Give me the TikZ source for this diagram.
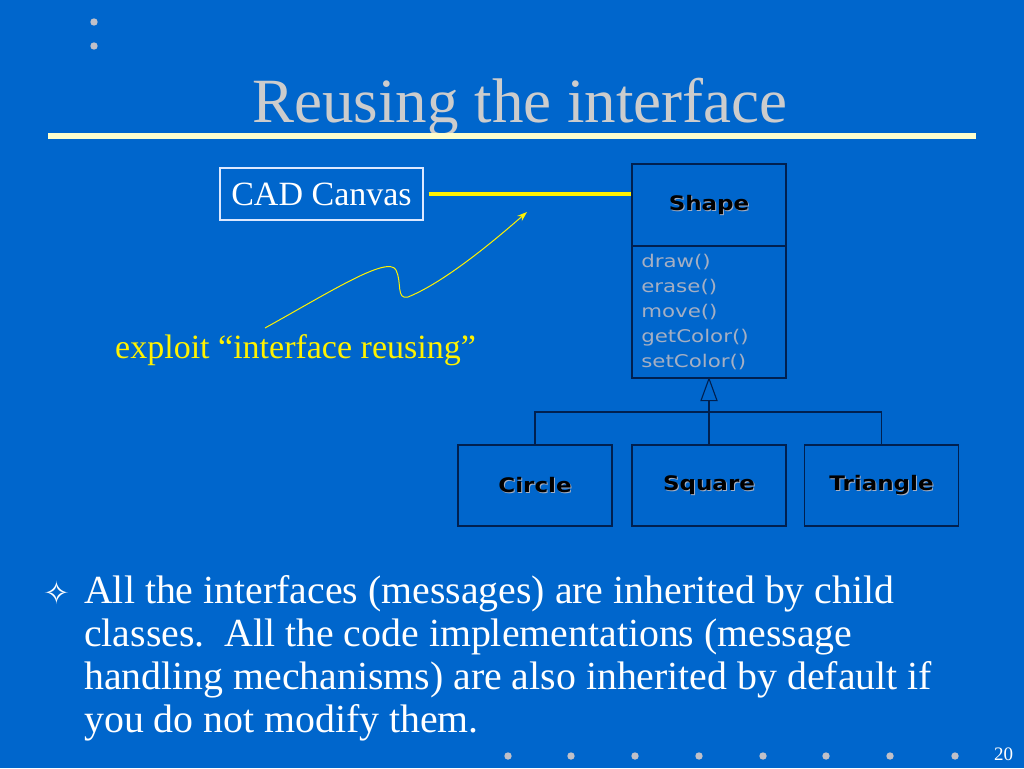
\documentclass[tikz,border=0pt]{standalone}
\usepackage{fontspec}
\setmainfont{Liberation Serif}
\newfontfamily\umlfont{DejaVu Sans}
\newfontfamily\symfont{DejaVu Sans}
\usetikzlibrary{arrows.meta}
\definecolor{bgblue}{RGB}{0,102,204}
\definecolor{titlegray}{RGB}{204,204,204}
\definecolor{dotgray}{RGB}{192,192,200}
\definecolor{rulecream}{RGB}{255,255,204}
\definecolor{umlline}{RGB}{0,32,80}
\definecolor{methodgray}{RGB}{165,175,195}
\definecolor{canvasborder}{RGB}{220,232,255}
\tikzset{
  txt/.style={inner sep=0pt, anchor=base west},
  umlbox/.style={draw=umlline, line width=1.1pt, fill=bgblue, inner sep=0pt,
    minimum width=154pt},
  classname/.style={inner sep=0pt, text=black, xscale=1.15, font=\umlfont\bfseries\fontsize{20}{24}\selectfont},
  classshadow/.style={inner sep=0pt, text=methodgray, xscale=1.15, font=\umlfont\bfseries\fontsize{20}{24}\selectfont},
  method/.style={inner sep=0pt, anchor=base west, text=methodgray, xscale=1.22, font=\umlfont\fontsize{17.5}{20}\selectfont},
  umlconn/.style={draw=umlline, line width=1.1pt},
  bodytext/.style={inner sep=0pt, anchor=base west, text=white, font=\fontsize{39.8}{43}\selectfont},
  bgdot/.style={fill=dotgray, draw=none}
}
\begin{document}
\begin{tikzpicture}[x=1pt,y=-1pt]
\useasboundingbox (0,0) rectangle (1024,768);
\fill[bgblue] (0,0) rectangle (1024,768);

% decorative dots
\foreach \yy in {22,46} \fill[bgdot] (94,\yy) circle (3.7);
\foreach \xx in {508,571,635,699,763,826,890,955} \fill[bgdot] (\xx,756) circle (3.7);

% title and rule
\node[inner sep=0pt, anchor=base, text=titlegray, font=\fontsize{63}{70}\selectfont] (title) at (520,122) {Reusing the interface};
\fill[rulecream] (48,133) rectangle (976,139);

% CAD Canvas box
\node[draw=canvasborder, line width=1.1pt, inner sep=0pt, minimum width=203pt, minimum height=52pt,
  text=white, font=\fontsize{34}{38}\selectfont] (canvas) at (321.5,194) {CAD Canvas};

% Shape class
\node[umlbox, minimum height=82pt] (shapehead) at (709,205) {};
\node[umlbox, minimum height=132pt] (shapebody) at (709,312) {};
\node[classshadow] at ([shift={(1,1)}]shapehead.center) {Shape};
\node[classname] (shapename) at (shapehead.center) {Shape};
\node[method] (m1) at (641,267) {draw()};
\node[method] (m2) at (641,292) {erase()};
\node[method] (m3) at (641,317) {move()};
\node[method] (m4) at (641,342) {getColor()};
\node[method] (m5) at (641,367) {setColor()};

% yellow association line
\draw[yellow, line width=4pt] ([xshift=5pt]canvas.east) -- (canvas.east -| shapehead.west);

% note with wiggly arrow
\node[txt, text=yellow, font=\fontsize{34}{38}\selectfont] (note) at (115,358) {exploit “interface reusing”};
\coordinate (tip) at (527,212);
\draw[yellow, line width=1pt, -{Stealth[length=10pt,width=7pt]}]
  (265,328) .. controls (330,292) and (388,255) .. (396,270)
  .. controls (402,282) and (396,300) .. (408,297)
  .. controls (445,282) and (495,240) .. (tip);

% subclasses
\node[umlbox, minimum height=81pt] (circle) at (535,485.5) {};
\node[umlbox, minimum height=81pt] (square) at (709,485.5) {};
\node[umlbox, minimum height=81pt] (triangle) at (881.5,485.5) {};
\foreach \n/\t in {circle/Circle, square/Square, triangle/Triangle}{
  \node[classshadow] at ([shift={(1,1)}]\n.center) {\t};
  \node[classname] at (\n.center) {\t};
}

% generalization
\coordinate (tribase) at (709,400);
\coordinate (bar) at (709,412);
\draw[umlconn, fill=bgblue] (shapebody.south) -- ++(-8,22) -- ++(16,0) -- cycle;
\draw[umlconn] (tribase) -- (square.north);
\draw[umlconn] (circle.north) |- (bar) -| (triangle.north);

% bullet text
\node[inner sep=0pt, text=white, font=\symfont\fontsize{32}{36}\selectfont] (bullet) at (57,593) {✧};
\node[bodytext] (b1) at (84,603) {All the interfaces (messages) are inherited by child};
\node[bodytext] (b2) at (84,646) {classes.\ \ All the code implementations (message};
\node[bodytext] (b3) at (84,689) {handling mechanisms) are also inherited by default if};
\node[bodytext] (b4) at (84,732) {you do not modify them.};

% page number
\node[txt, text=white, font=\fontsize{19}{22}\selectfont] (pagenum) at (994,760) {20};
\end{tikzpicture}
\end{document}
